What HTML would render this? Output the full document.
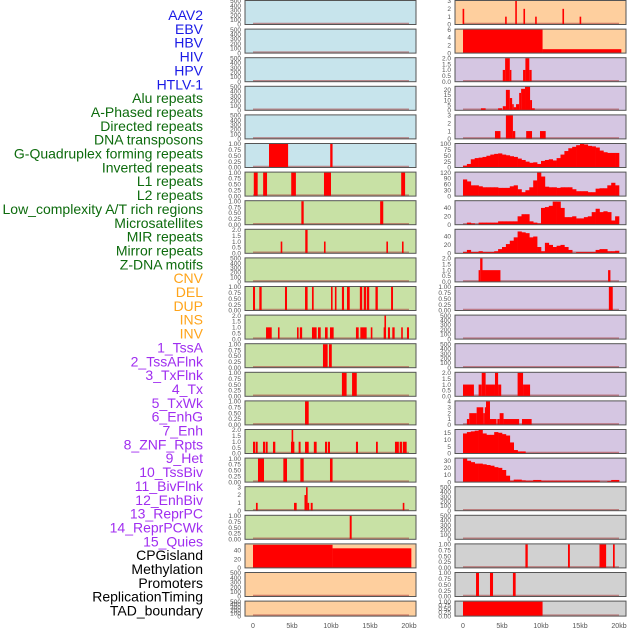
<!DOCTYPE html>
<html><head><meta charset="utf-8">
<style>
html,body{margin:0;padding:0;background:#fff;}
svg{display:block;font-family:"Liberation Sans",sans-serif;}
</style></head>
<body>
<svg id="chart" width="630" height="630" viewBox="0 0 630 630"></svg>
<script>
// ---------- labels ----------
const trackLabels = ["AAV2","EBV","HBV","HIV","HPV","HTLV-1","Alu repeats","A-Phased repeats","Directed repeats","DNA transposons","G-Quadruplex forming repeats","Inverted repeats","L1 repeats","L2 repeats","Low_complexity A/T rich regions","Microsatellites","MIR repeats","Mirror repeats","Z-DNA motifs","CNV","DEL","DUP","INS","INV","1_TssA","2_TssAFlnk","3_TxFlnk","4_Tx","5_TxWk","6_EnhG","7_Enh","8_ZNF_Rpts","9_Het","10_TssBiv","11_BivFlnk","12_EnhBiv","13_ReprPC","14_ReprPCWk","15_Quies","CPGisland","Methylation","Promoters","ReplicationTiming","TAD_boundary"];
const labelGroups = ["virus","virus","virus","virus","virus","virus","rep","rep","rep","rep","rep","rep","rep","rep","rep","rep","rep","rep","rep","sv","sv","sv","sv","sv","hmm","hmm","hmm","hmm","hmm","hmm","hmm","hmm","hmm","hmm","hmm","hmm","hmm","hmm","hmm","oth","oth","oth","oth","oth"];
const xTickValues = [0,5,10,15,20];
const xTickLabels = ["0","5kb","10kb","15kb","20kb"];

// ---------- tick sets ----------
const ticks500 = [0,100,200,300,400,500];
const ticks1 = [0,0.25,0.5,0.75,1];
const ticks2 = [0,0.5,1,1.5,2];
const ticks3 = [0,1,2,3];
const ticks4 = [0,1,2,3,4];
const ticks6 = [0,2,4,6];
const ticks20 = [0,5,10,15,20];
const ticks100 = [0,25,50,75,100];
const ticks120 = [0,30,60,90,120];
const ticks40 = [0,20,40];
const ticks15 = [0,5,10,15];
const ticks30 = [0,10,20,30];

// ---------- segment data [startKb, endKb, value] ----------
const empty = [];
const htlv1 = [[2.05,4.5,1],[9.9,10.2,1]];
const alu = [[0.1,0.6,1],[1.3,1.8,1],[4.9,5.5,1],[9.1,10.0,1],[19.0,19.5,1]];
const aPhased = [[6.2,6.5,1],[16.3,16.7,1]];
const directed = [[3.55,3.75,1],[6.7,7.0,2],[9.1,9.3,1],[17.1,17.3,1],[19.1,19.3,1]];
const gQuad = [[0,0.26,1],[0.81,1.11,1],[4.1,4.36,1],[6.67,7.0,1],[7.56,7.78,1],[10.0,10.2,1],[10.5,10.7,1],[11.4,11.67,1],[12.05,12.4,1],[13.7,14.0,1],[14.2,14.5,1],[14.6,14.9,1],[15.7,16.0,1],[17.7,17.95,1]];
const inverted = [[1.67,2.4,1],[3.2,3.4,1],[5.64,5.85,1],[6.0,6.3,1],[7.56,8.16,1],[8.33,8.68,1],[9.23,9.57,1],[9.87,10.34,1],[13.2,13.55,1],[13.76,14.57,1],[15.1,15.3,1],[16.75,16.85,1],[16.85,17.05,2],[17.3,17.56,1],[17.86,18.16,1],[19.0,19.2,1],[19.74,20.0,1]];
const l1 = [[8.97,9.57,1],[9.74,10.1,1]];
const l2 = [[11.4,12.0,1],[12.7,13.3,1]];
const lowComplexity = [[6.67,7.14,1]];
const microsat = [[0,0.26,1],[0.34,0.6,1],[1.28,1.54,1],[1.62,1.88,1],[2.56,2.86,1],[4.87,4.95,1],[4.95,5.1,2],[5.1,5.2,1],[5.85,6.1,1],[6.67,7.14,1],[7.8,8.16,1],[9.23,9.5,1],[9.6,9.87,1],[13.2,13.46,1],[15.77,16.0,1],[18.2,18.7,1],[18.8,19.1,1],[19.2,19.7,1]];
const mir = [[0.64,1.41,1],[3.89,4.36,1],[6.07,6.5,1],[9.87,10.2,1]];
const mirror = [[0.38,0.6,1],[5.26,5.6,1],[6.6,6.8,2],[6.8,7.0,3],[7.0,7.15,1],[7.4,7.65,1],[19.2,19.4,1]];
const zdna = [[12.4,12.65,1]];
const cnv = [[0,10.2,53],[10.2,20.3,45]];
const ins = [[-0.05,0.12,2],[5.4,5.55,1],[6.7,6.85,3],[7.75,7.9,2],[9.25,9.4,1],[12.75,12.9,2],[14.95,15.1,1]];
const inv = [[0,10.2,6],[10.2,20.3,1]];
const tssA = [[5.1,5.4,1],[5.4,6.0,2],[6.0,6.2,1],[7.7,8.0,1],[8.0,8.5,2],[8.5,8.8,1]];
const tssAFlnk = [[2.3,2.9,2],[4.5,5.0,2],[5.1,5.5,4],[5.5,6.0,20],[6.0,6.3,12],[6.3,6.5,6],[6.5,6.8,3],[6.8,7.2,6],[7.2,7.45,17],[7.45,7.95,21],[7.95,8.6,23],[8.6,8.85,10],[8.85,9.2,2]];
const txFlnk = [[4.1,4.8,1],[5.5,6.4,3],[6.4,6.7,1],[8.1,8.85,1],[9.87,10.6,1]];
const znf = [[2.0,2.2,1],[2.2,2.5,2],[2.5,4.8,1],[18.6,18.9,1]];
const het = [[18.7,19.2,1]];
const enhBiv = [[0,1.4,1],[2.0,2.4,1],[2.4,2.9,2],[2.9,4.1,1],[4.1,4.5,2],[4.5,4.9,1],[7.0,7.7,2],[7.7,8.6,1]];
const reprPC = [[0.5,0.8,1],[0.8,1.75,2],[1.75,2.6,3],[2.6,2.8,2],[2.8,2.95,3],[2.95,3.46,4],[3.46,4.3,1],[4.4,4.7,1],[4.7,5.2,2],[5.2,7.2,1],[7.56,8.8,1]];
const promoters = [[8.0,8.3,1],[13.46,13.7,1],[17.5,18.35,1],[19.23,19.45,1]];
const replication = [[1.67,2.05,1],[3.46,3.85,1],[6.4,6.75,1]];
const tad = [[0,10.2,1]];

// ---------- profile data (0.5 kb bins from 0 kb) ----------
const txProfile = [8,15,35,40,42,45,50,55,58,60,55,52,48,45,38,32,25,20,22,15,28,32,35,30,40,55,70,82,88,95,100,98,92,90,85,72,65,62,62,62];
const txWkProfile = [85,75,55,55,50,45,45,45,45,42,42,42,50,55,35,20,30,45,80,120,100,48,45,45,42,45,45,45,35,25,25,25,20,20,38,40,40,55,68,55];
const enhGProfile = [0,5,3,0,5,5,5,5,5,8,8,8,8,8,20,25,25,8,5,3,40,42,45,55,55,40,18,18,20,15,15,18,20,30,38,30,32,30,10,20];
const enhProfile = [3,8,3,3,5,3,3,3,5,10,15,22,30,38,52,50,48,38,40,15,5,25,20,15,18,20,15,8,0,3,3,3,3,3,8,10,10,5,5,6];
const reprPCWkProfile = [14.5,15.5,16,16.5,17,14.5,13.5,13.5,15.5,15,14,13,8,2.5,1.5,1.5,0.4,0.4,0.4,0.4,0.4,0.4,0.4,0.4,0.4,0.4,0.4,0.4,0.4,0.4,0.4,0.4,0.4,0.4,0.4,0.4,0.4,0.4,0.4,0.4];
const quiesProfile = [33,30,28,26,26,25,24,23,21,20,17,9,2,3.5,3.5,2.5,2,2,3,3,2,2,2,2,2,2,2,2,2,2,2,2,2,2,2,0.5,0.5,1.5,3,3];

// ---------- layout (not data) ----------
const BG = {virus:"#c7e4ec",rep:"#c8e1a5",sv:"#fecf9e",hmm:"#d5c6e2",oth:"#d1d1d1"};
const LBL = {virus:"#1a1ae6",rep:"#0d6b0d",sv:"#ffa41a",hmm:"#a02ef0",oth:"#000"};
const cols = [
  {x0:245,x1:416,z:253,lx:241},
  {x0:455,x1:626,z:463,lx:451}
];
const KB = 7.8;
// per panel: [segments or profile, isProfile, ticks, ymax, tickFmt]
const panels = [
  [empty,0,ticks500,500,0],[empty,0,ticks500,500,0],[empty,0,ticks500,500,0],[empty,0,ticks500,500,0],[empty,0,ticks500,500,0],
  [htlv1,0,ticks1,1,2],[alu,0,ticks1,1,2],[aPhased,0,ticks1,1,2],[directed,0,ticks2,2,1],[empty,0,ticks500,500,0],
  [gQuad,0,ticks1,1,2],[inverted,0,ticks2,2,1],[l1,0,ticks1,1,2],[l2,0,ticks1,1,2],[lowComplexity,0,ticks1,1,2],
  [microsat,0,ticks2,2,1],[mir,0,ticks1,1,2],[mirror,0,ticks3,3,0],[zdna,0,ticks1,1,2],[cnv,0,ticks40,54,0],
  [empty,0,ticks500,500,0],[empty,0,ticks500,500,0],
  [ins,0,ticks3,3,0],[inv,0,ticks6,6,0],[tssA,0,ticks2,2,1],[tssAFlnk,0,ticks20,23,0],[txFlnk,0,ticks3,3,0],
  [txProfile,1,ticks100,100,0],[txWkProfile,1,ticks120,120,0],[enhGProfile,1,ticks40,56,0],[enhProfile,1,ticks40,56,0],
  [znf,0,ticks2,2,1],[het,0,ticks1,1,2],[empty,0,ticks500,500,0],[empty,0,ticks500,500,0],[enhBiv,0,ticks2,2,1],
  [reprPC,0,ticks4,4,0],[reprPCWkProfile,1,ticks15,17,0],[quiesProfile,1,ticks30,33,0],
  [empty,0,ticks500,500,0],[empty,0,ticks500,500,0],[promoters,0,ticks1,1,2],[replication,0,ticks1,1,2],[tad,0,ticks1,1,2]
];

const NS = "http://www.w3.org/2000/svg";
const svg = document.getElementById("chart");
function mk(tag, attrs, parent){
  const e = document.createElementNS(NS, tag);
  for (const k in attrs) e.setAttribute(k, attrs[k]);
  (parent||svg).appendChild(e);
  return e;
}

// labels
trackLabels.forEach((t,i)=>{
  const e = mk("text",{x:203,y:20+i*13.85,"text-anchor":"end","font-size":"14",fill:LBL[labelGroups[i]]});
  
  
  e.textContent = t;
});

panels.forEach((p,i)=>{
  const c = cols[i<22?0:1];
  const row = i%22;
  const top = row*28.6 + 0.5;
  const h = row===21 ? 15 : 24;
  const bottom = top + h;
  const grp = mk("g",{});
  
  
  const bg = labelGroups[i];
  mk("rect",{x:c.x0,y:top,width:c.x1-c.x0,height:h,fill:BG[bg]},grp);
  const ymax = p[3];
  const ys = v => bottom - (v/ymax)*(h-0.5);
  const xs = kb => c.z + kb*KB;
  // baseline
  mk("line",{x1:xs(0),x2:xs(20),y1:bottom-1,y2:bottom-1,stroke:"rgba(170,60,60,0.55)","stroke-width":"1.5"},grp);
  // marks
  const data = p[0];
  if (p[1]) {
    data.forEach((v,k)=>{
      if (v<=0) return;
      const r = mk("rect",{x:xs(k*0.5),y:ys(v),width:KB*0.5+0.3,height:bottom-ys(v),fill:"#ff0000"},grp);
      
      
    });
  } else {
    data.forEach(s=>{
      const x0 = xs(s[0]), w = Math.max(1.6, xs(s[1])-x0);
      const r = mk("rect",{x:x0,y:ys(s[2]),width:w,height:bottom-ys(s[2]),fill:"#ff0000"},grp);
      
      
    });
  }
  // frame
  mk("rect",{x:c.x0,y:top,width:c.x1-c.x0,height:h,fill:"none",stroke:"#555","stroke-width":"1"},grp);
  // y ticks
  p[2].forEach(t=>{
    const e = mk("text",{x:c.lx,y:ys(t)+2.2,"text-anchor":"end","font-size":"6.5",fill:"#555"},grp);
    
    
    e.textContent = p[4] ? t.toFixed(p[4]) : String(t);
  });
});

// x axes
cols.forEach((c,ci)=>{
  xTickValues.forEach((v,k)=>{
    const e = mk("text",{x:c.z+v*KB,y:628,"text-anchor":"middle","font-size":"7",fill:"#555"});
    
    
    e.textContent = xTickLabels[k];
  });
});
</script>
</body></html>
